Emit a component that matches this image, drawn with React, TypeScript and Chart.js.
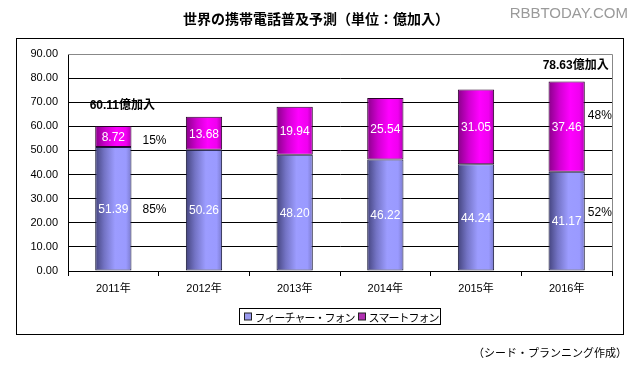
import React, { useEffect, useRef } from "react";
import { Chart, registerables } from "chart.js";

Chart.register(...registerables);

const years = ["2011年", "2012年", "2013年", "2014年", "2015年", "2016年"];
const featurePhone = [51.39, 50.26, 48.2, 46.22, 44.24, 41.17];
const smartPhone = [8.72, 13.68, 19.94, 25.54, 31.05, 37.46];
const seriesNames = ["フィーチャー・フォン", "スマートフォン"];
const yTicks = [0, 10, 20, 30, 40, 50, 60, 70, 80, 90];
const titleText = "世界の携帯電話普及予測（単位：億加入）";
const sourceText = "（シード・プランニング作成）";
const watermark = "RBBTODAY.COM";
const totalUnit = "億加入";
const annotatedYears = [0, 5];

const FONT = '"Liberation Sans", Arial, "Noto Sans CJK JP", sans-serif';
const JFONT = '"Noto Sans CJK JP", "Liberation Sans", sans-serif';

function gradFor(ctx: any, stops: [number, string][], solid: string) {
  const chart = ctx.chart;
  if (ctx.dataIndex === undefined || !chart.chartArea) return solid;
  const xs = chart.scales.x;
  const cx = xs.getPixelForValue(ctx.dataIndex);
  const w = (xs.width / years.length) * 0.4;
  const g = chart.ctx.createLinearGradient(cx - w / 2, 0, cx + w / 2, 0);
  stops.forEach(([o, c]) => g.addColorStop(o, c));
  return g;
}

const blueStops: [number, string][] = [
  [0, "#44447e"],
  [0.25, "#7373c4"],
  [0.55, "#9c9cff"],
  [0.85, "#9a9aff"],
  [1, "#7a7acc"],
];
const magStops: [number, string][] = [
  [0, "#8a008a"],
  [0.3, "#d000d0"],
  [0.6, "#ff00ff"],
  [0.85, "#f000f0"],
  [1, "#b000b0"],
];

const decorPlugin = {
  id: "decor",
  beforeDraw(chart: any) {
    const c = chart.ctx;
    c.save();
    c.fillStyle = "#ffffff";
    c.fillRect(0, 0, chart.width, chart.height);
    c.strokeStyle = "#000000";
    c.lineWidth = 1;
    c.strokeRect(16.5, 38.5, 607, 296);
    c.restore();
  },
  afterDraw(chart: any) {
    const c = chart.ctx;
    const area = chart.chartArea;
    c.save();
    c.strokeStyle = "#888888";
    c.lineWidth = 1;
    c.beginPath();
    c.moveTo(area.left, Math.round(area.top) + 0.5);
    c.lineTo(Math.round(area.right) + 0.5, Math.round(area.top) + 0.5);
    c.lineTo(Math.round(area.right) + 0.5, Math.round(area.bottom));
    c.stroke();

    // title
    c.fillStyle = "#000000";
    c.font = "bold 14px " + JFONT;
    c.textAlign = "center";
    c.textBaseline = "middle";
    c.fillText(titleText, 316, 19);

    // watermark
    c.fillStyle = "#9a9a9a";
    c.font = "15px " + FONT;
    c.textAlign = "right";
    c.fillText(watermark, 628, 14);

    // in-bar value labels
    c.font = "12px " + FONT;
    c.textAlign = "center";
    c.fillStyle = "#ffffff";
    const sets = [featurePhone, smartPhone];
    sets.forEach((vals, di) => {
      const meta = chart.getDatasetMeta(di);
      meta.data.forEach((el: any, i: number) => {
        const y = (el.y + el.base) / 2;
        c.fillText(vals[i].toFixed(2), el.x, y + 1);
      });
    });

    // totals & percentages
    c.fillStyle = "#000000";
    annotatedYears.forEach((i, k) => {
      const total = featurePhone[i] + smartPhone[i];
      const top = chart.getDatasetMeta(1).data[i];
      const bot = chart.getDatasetMeta(0).data[i];
      c.font = "bold 12px " + FONT;
      c.textAlign = "center";
      c.fillText(total.toFixed(2) + totalUnit, top.x + 9, top.y - (k === 0 ? 20 : 16));
      const pS = Math.round((smartPhone[i] / total) * 100);
      const pF = Math.round((featurePhone[i] / total) * 100);
      c.font = "12px " + FONT;
      c.textAlign = "left";
      const half = top.width / 2;
      const dx = k === 0 ? 11 : 3;
      const sy = (top.y + top.base) / 2 + (k === 0 ? 4 : -11);
      const fy = (bot.y + bot.base) / 2 + (k === 0 ? 1 : -8);
      c.fillText(pS + "%", top.x + half + dx, sy);
      c.fillText(pF + "%", top.x + half + dx, fy);
    });

    // legend
    c.font = "11px " + JFONT;
    (c as any).letterSpacing = "-1px";
    const w0 = c.measureText(seriesNames[0]).width;
    const w1 = c.measureText(seriesNames[1]).width;
    const sw = 7;
    const gap = 3;
    const itemGap = 4;
    const totalW = 5 + sw + gap + w0 + itemGap + sw + gap + w1 + 2;
    const bx = Math.round(339 - totalW / 2) + 0.5;
    const by = 308.5;
    const bh = 16;
    c.fillStyle = "#ffffff";
    c.fillRect(bx, by, totalW, bh);
    c.strokeStyle = "#000000";
    c.strokeRect(bx, by, totalW, bh);
    const colors = ["#9999ee", "#b030b0"];
    let x = bx + 5;
    [w0, w1].forEach((w, i) => {
      c.fillStyle = colors[i];
      c.fillRect(x, by + 4.5, sw, sw);
      c.strokeStyle = "#222222";
      c.strokeRect(x, by + 4.5, sw, sw);
      x += sw + gap;
      c.fillStyle = "#000000";
      c.textAlign = "left";
      c.textBaseline = "middle";
      c.fillText(seriesNames[i], x, by + bh / 2 + 1);
      x += w + itemGap;
    });
    (c as any).letterSpacing = "0px";

    // source
    c.font = "11px " + JFONT;
    c.textAlign = "right";
    c.fillStyle = "#000000";
    c.fillText(sourceText, 627, 353);
    c.restore();
  },
};

export default function App() {
  const ref = useRef<HTMLCanvasElement>(null);
  useEffect(() => {
    document.body.style.margin = "0";
    const chart = new Chart(ref.current!, {
      type: "bar",
      data: {
        labels: years,
        datasets: [
          {
            label: seriesNames[0],
            data: featurePhone,
            backgroundColor: (ctx: any) => gradFor(ctx, blueStops, "#9999ff"),
            borderColor: "#1a1a3a",
            borderWidth: 1,
            borderSkipped: false,
            barPercentage: 0.4,
            categoryPercentage: 1,
          },
          {
            label: seriesNames[1],
            data: smartPhone,
            backgroundColor: (ctx: any) => gradFor(ctx, magStops, "#ff00ff"),
            borderColor: "#2a002a",
            borderWidth: 1,
            borderSkipped: false,
            barPercentage: 0.4,
            categoryPercentage: 1,
          },
        ],
      },
      options: {
        responsive: false,
        animation: false,
        layout: { padding: { left: 0, top: 54, right: 22, bottom: 70 } },
        plugins: {
          legend: { display: false },
          tooltip: { enabled: false },
          title: { display: false },
        },
        scales: {
          x: {
            stacked: true,
            grid: {
              offset: true,
              drawOnChartArea: false,
              drawTicks: true,
              tickLength: 5,
              color: "#000000",
            },
            border: { display: true, color: "#000000" },
            ticks: {
              color: "#000000",
              font: { family: FONT, size: 11 },
              padding: 6,
            },
            afterFit: (s: any) => {
              s.height = 30;
            },
          },
          y: {
            stacked: true,
            min: yTicks[0],
            max: yTicks[yTicks.length - 1],
            afterBuildTicks: (s: any) => {
              s.ticks = yTicks.map((v) => ({ value: v }));
            },
            grid: {
              drawTicks: false,
              color: (ctx: any) =>
                ctx.tick && ctx.tick.value === yTicks[yTicks.length - 1] ? "#888888" : "#000000",
            },
            border: { display: true, color: "#000000" },
            ticks: {
              color: "#000000",
              font: { family: FONT, size: 11 },
              padding: 10,
              callback: (v: any) => Number(v).toFixed(2),
            },
            afterFit: (s: any) => {
              s.width = 68;
            },
          },
        },
      },
      plugins: [decorPlugin],
    });
    return () => chart.destroy();
  }, []);
  return (
    <div style={{ width: 634, height: 371 }}>
      <canvas ref={ref} width={634} height={371} />
    </div>
  );
}
